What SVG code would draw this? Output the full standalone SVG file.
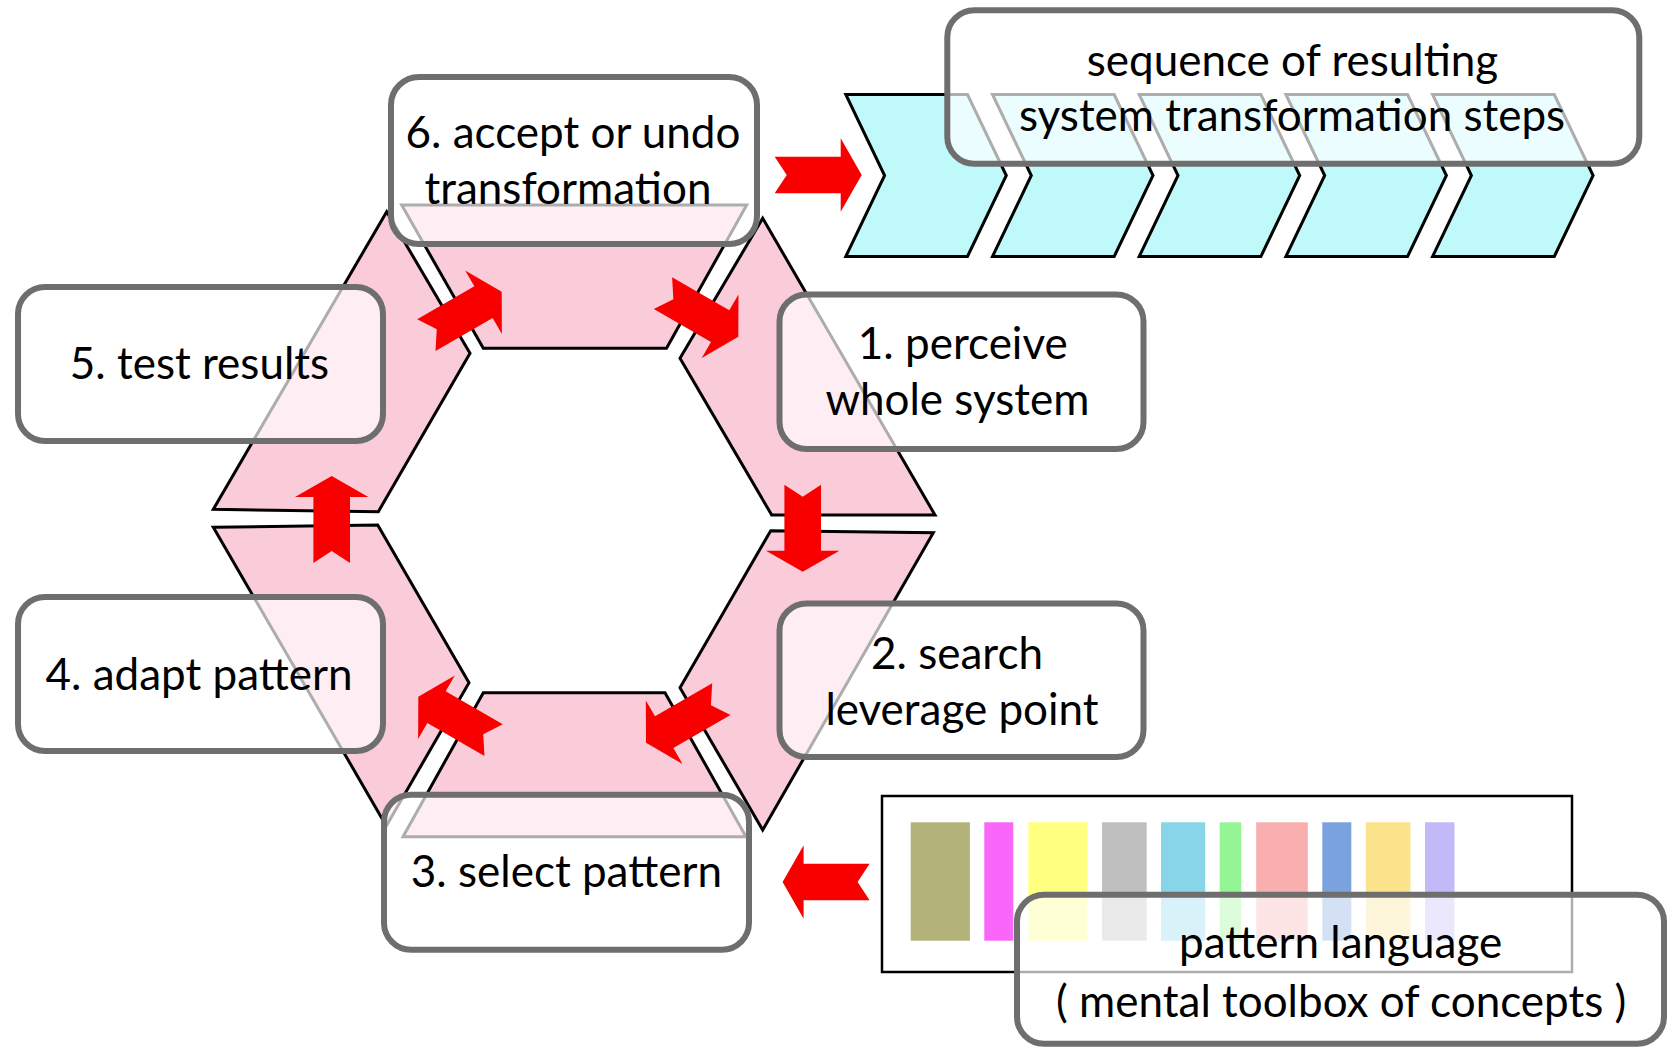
<svg xmlns="http://www.w3.org/2000/svg" xmlns:xlink="http://www.w3.org/1999/xlink" width="1669" height="1048" viewBox="0 0 1669 1048">
<style>
.seg{fill:#FACBD8;stroke:#000;stroke-width:3;stroke-linejoin:miter}
.chev{fill:#C0F9FA;stroke:#000;stroke-width:3}
.box{fill:#fff;fill-opacity:0.68;stroke:#6E6E6E;stroke-width:6}
.arr{fill:#F80000}
.t{font-family:Lato,"Liberation Sans",sans-serif;font-size:44px;fill:#000;text-anchor:middle}
</style>
<defs>
<path id="arrow" d="M0,0 L-21,-36.7 L-21,-18.3 L-87,-18.3 L-75,0 L-87,18.3 L-21,18.3 L-21,36.7 Z"/>
</defs>
<rect width="1669" height="1048" fill="#fff"/>

<g id="cycle">
<polygon class="seg" points="386.7,211.7 470,353.3 378.3,511.7 213.3,509.3"/>
<polygon class="seg" points="401.7,205 746.7,205 666.5,348.3 483.3,348.3"/>
<polygon class="seg" points="762.7,218.3 935,515 771.7,515 680,358.3"/>
<polygon class="seg" points="770.7,530.7 933.3,532.7 762.7,830 680,687.7"/>
<polygon class="seg" points="483.3,692.7 665,692.7 746,836.7 403,836.7"/>
<polygon class="seg" points="213.3,527.3 377.7,525 469,682.7 386.3,825.9"/>
</g>

<g id="steps">
<polygon class="chev" points="845.8,94.5 967.5,94.5 1006.3,175.5 967.5,256.5 845.8,256.5 884.6,175.5"/>
<polygon class="chev" points="992.5,94.5 1114.2,94.5 1153,175.5 1114.2,256.5 992.5,256.5 1031.3,175.5"/>
<polygon class="chev" points="1139.2,94.5 1260.9,94.5 1299.7,175.5 1260.9,256.5 1139.2,256.5 1178,175.5"/>
<polygon class="chev" points="1285.9,94.5 1407.6,94.5 1446.4,175.5 1407.6,256.5 1285.9,256.5 1324.7,175.5"/>
<polygon class="chev" points="1432.6,94.5 1554.3,94.5 1593.1,175.5 1554.3,256.5 1432.6,256.5 1471.4,175.5"/>
</g>

<g id="palette">
<rect x="882" y="796" width="690" height="176" fill="#fff" stroke="#000" stroke-width="2.5"/>
<rect x="910.7" y="822.3" width="59.2" height="118.4" fill="#B3B278"/>
<rect x="984.3" y="822.3" width="29" height="118.4" fill="#F966F9"/>
<rect x="1028.4" y="822.3" width="59.1" height="118.4" fill="#FFFF80"/>
<rect x="1102" y="822.3" width="44.7" height="118.4" fill="#BFBFBF"/>
<rect x="1161" y="822.3" width="44.2" height="118.4" fill="#88D4E8"/>
<rect x="1219.7" y="822.3" width="21.5" height="118.4" fill="#93F593"/>
<rect x="1256.2" y="822.3" width="51.6" height="118.4" fill="#F9AFB0"/>
<rect x="1322.3" y="822.3" width="29" height="118.4" fill="#7AA2DE"/>
<rect x="1365.8" y="822.3" width="44.6" height="118.4" fill="#FBE38B"/>
<rect x="1425" y="822.3" width="29.5" height="118.4" fill="#C2B9F9"/>
</g>

<g id="connectors" class="arr">
<use xlink:href="#arrow" transform="translate(861.7,175)"/>
<use xlink:href="#arrow" transform="translate(738.3,336.7) rotate(30)"/>
<use xlink:href="#arrow" transform="translate(802.7,571.7) rotate(90)"/>
<use xlink:href="#arrow" transform="translate(646,742.7) rotate(150)"/>
<use xlink:href="#arrow" transform="translate(418.3,696.7) rotate(210)"/>
<use xlink:href="#arrow" transform="translate(331.7,476) rotate(-90)"/>
<use xlink:href="#arrow" transform="translate(501.7,291.7) rotate(-30)"/>
<use xlink:href="#arrow" transform="translate(782.6,882) rotate(180)"/>
</g>

<g id="node6">
<rect class="box" x="391" y="77" width="366" height="167" rx="28"/>
<text class="t" x="573" y="148">6. accept or undo</text>
<text class="t" x="568" y="204">transformation</text>
</g>
<g id="node5">
<rect class="box" x="18" y="287" width="365" height="154" rx="27"/>
<text class="t" x="199.5" y="378.5">5. test results</text>
</g>
<g id="node4">
<rect class="box" x="18" y="597" width="365" height="154" rx="27"/>
<text class="t" x="199" y="689.5">4. adapt pattern</text>
</g>
<g id="node1">
<rect class="box" x="779.5" y="294.5" width="364" height="154.5" rx="27"/>
<text class="t" x="962.8" y="359">1. perceive</text>
<text class="t" x="957.4" y="415">whole system</text>
</g>
<g id="node2">
<rect class="box" x="779.5" y="603.5" width="364" height="153.5" rx="27"/>
<text class="t" x="957" y="669">2. search</text>
<text class="t" x="962" y="725">leverage point</text>
</g>
<g id="node3">
<rect class="box" x="384" y="794.7" width="365" height="155" rx="27"/>
<text class="t" x="566.4" y="886.7">3. select pattern</text>
</g>
<g id="sequence">
<rect class="box" x="947.3" y="10.3" width="692" height="153.4" rx="27"/>
<text class="t" x="1292.5" y="75.5">sequence of resulting</text>
<text class="t" x="1292" y="131">system transformation steps</text>
</g>
<g id="language">
<rect class="box" x="1017" y="894.7" width="647" height="149" rx="27"/>
<text class="t" x="1340.6" y="958.3">pattern language</text>
<text class="t" x="1341.2" y="1016.7">( mental toolbox of concepts )</text>
</g>
</svg>
